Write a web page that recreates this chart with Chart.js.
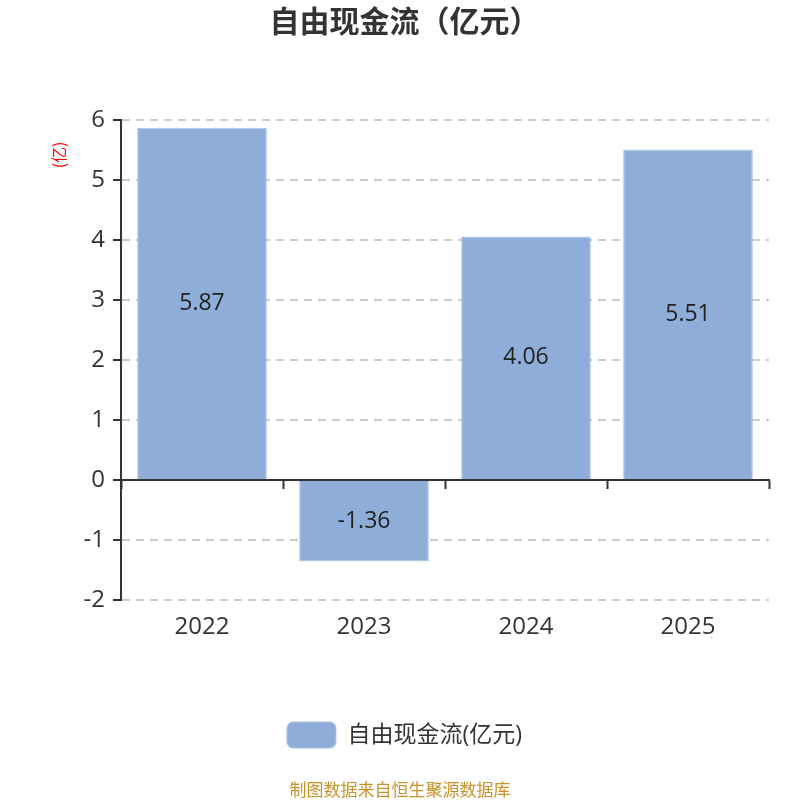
<!DOCTYPE html>
<html>
<head>
<meta charset="utf-8">
<script src="https://cdn.jsdelivr.net/npm/chart.js@4/dist/chart.umd.min.js"></script>
<style>
  html, body { margin: 0; padding: 0; background: #fff; }
  #wrap { position: relative; width: 800px; height: 800px; }
  #footer { position: absolute; left: 0; width: 800px; top: 777px; text-align: center;
    font-family: "Noto Sans CJK SC", sans-serif; font-size: 17px; color: #c8922a; line-height: 24px; }
</style>
</head>
<body>
<div id="wrap">
  <canvas id="c" width="800" height="800"></canvas>
  <div id="footer">制图数据来自恒生聚源数据库</div>
</div>
<script>
const categories = ["2022", "2023", "2024", "2025"];
const seriesName = "自由现金流(亿元)";
const seriesValues = [5.87, -1.36, 4.06, 5.51];
const yTicks = [-2, -1, 0, 1, 2, 3, 4, 5, 6];
const chartTitle = "自由现金流（亿元）";
const yUnit = "(亿)";

const FONT = '"Open Sans", "Noto Sans CJK SC", sans-serif';
const CJK = '"Noto Sans CJK SC", "Open Sans", sans-serif';

const valueLabels = {
  id: 'valueLabels',
  afterDatasetsDraw(chart) {
    const ctx = chart.ctx;
    const meta = chart.getDatasetMeta(0);
    ctx.save();
    ctx.font = '23px ' + FONT;
    ctx.fillStyle = '#222';
    ctx.textAlign = 'center';
    ctx.textBaseline = 'middle';
    meta.data.forEach((bar, i) => {
      const p = bar.getProps(['x', 'y', 'base'], true);
      ctx.fillText(String(seriesValues[i]), p.x, (p.y + p.base) / 2);
    });
    ctx.restore();
  }
};

new Chart(document.getElementById('c'), {
  type: 'bar',
  data: {
    labels: categories,
    datasets: [{
      label: seriesName,
      data: seriesValues,
      backgroundColor: '#8eaed9',
      borderColor: '#a9c1e6',
      borderWidth: 1,
      categoryPercentage: 1.0,
      barPercentage: 0.8,
      xAxisID: 'x'
    }]
  },
  options: {
    responsive: false,
    animation: false,
    devicePixelRatio: 1,
    layout: { padding: { left: 40, right: 31, top: 0, bottom: 42 } },
    plugins: {
      title: {
        display: true,
        text: chartTitle,
        color: '#333',
        font: { family: CJK, size: 30, weight: 'bold' },
        padding: { top: 3, bottom: 81 }
      },
      legend: {
        position: 'bottom',
        labels: {
          color: '#333',
          font: { family: FONT, size: 23 },
          boxWidth: 49,
          boxHeight: 26,
          useBorderRadius: true,
          borderRadius: 6,
          padding: 10
        }
      },
      tooltip: { enabled: false }
    },
    scales: {
      x: {
        position: 'bottom',
        grid: { display: false },
        border: { display: false },
        ticks: { color: '#333', font: { family: FONT, size: 24 }, padding: 5 },
        afterFit(s) { s.height = 112; }
      },
      x2: {
        type: 'category',
        labels: categories,
        position: { y: 0 },
        offset: true,
        grid: { display: true, drawOnChartArea: false, offset: true, tickLength: 8, tickColor: '#333', tickWidth: 2 },
        border: { display: true, color: '#333', width: 2 },
        ticks: { display: false }
      },
      y: {
        min: -2,
        max: 6,
        afterBuildTicks(s) { s.ticks = yTicks.map(v => ({ value: v })); },
        ticks: { color: '#333', font: { family: FONT, size: 24 }, padding: 8 },
        grid: {
          color: '#cccccc',
          lineWidth: 2,
          tickColor: '#333',
          tickLength: 8,
          tickWidth: 2,
          tickBorderDash: []
        },
        border: { display: true, color: '#333', width: 2, dash: [8, 6] },
        title: {
          display: true,
          text: yUnit + '      ',
          align: 'end',
          color: '#ff0000',
          font: { family: CJK, size: 16 },
          padding: { top: 9, bottom: 10 }
        },
        afterFit(s) { s.width = 81; }
      }
    }
  },
  plugins: [valueLabels]
});
</script>
</body>
</html>
